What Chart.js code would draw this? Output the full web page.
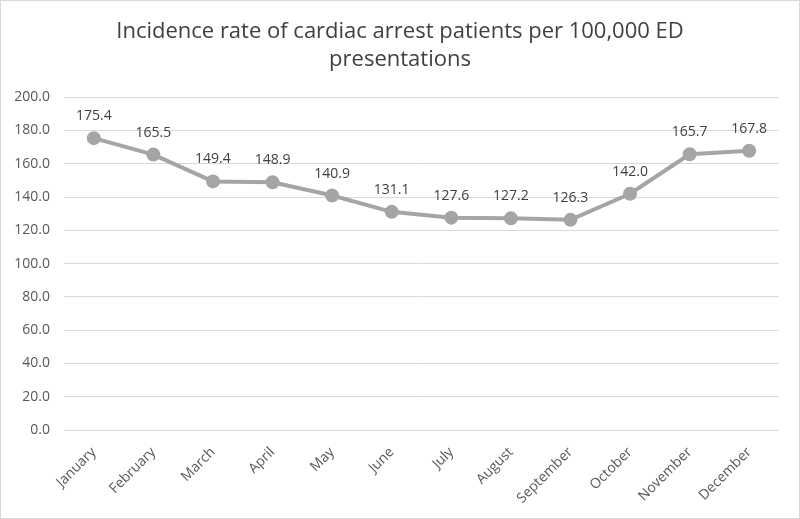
<!DOCTYPE html>
<html><head><meta charset="utf-8">
<script src="https://cdn.jsdelivr.net/npm/chart.js@4/dist/chart.umd.min.js"></script>
<style>html,body{margin:0;padding:0;background:#fff}#wrap{width:800px;height:519px}</style>
</head><body><div id="wrap"><canvas id="c" width="800" height="519"></canvas></div>
<script>
const months = ["January","February","March","April","May","June","July","August","September","October","November","December"];
const incidence = [175.4,165.5,149.4,148.9,140.9,131.1,127.6,127.2,126.3,142.0,165.7,167.8];
const titleLines = ["Incidence rate of cardiac arrest patients per 100,000 ED","presentations"];
const yMin = 0, yMax = 200, yStep = 20;

const FONT = "'Open Sans', 'Liberation Sans', sans-serif";

const bgBorder = {
  id: 'bgBorder',
  beforeDraw(chart) {
    const ctx = chart.ctx;
    ctx.save();
    ctx.fillStyle = '#fff';
    ctx.fillRect(0,0,chart.width,chart.height);
    ctx.strokeStyle = '#d9d9d9';
    ctx.lineWidth = 1;
    ctx.strokeRect(0.5,0.5,chart.width-1,chart.height-1);
    ctx.restore();
  }
};
const dataLabels = {
  id: 'dataLabels',
  afterDatasetsDraw(chart) {
    const ctx = chart.ctx;
    const meta = chart.getDatasetMeta(0);
    ctx.save();
    ctx.font = "14px " + FONT;
    ctx.fillStyle = '#404040';
    ctx.textAlign = 'center';
    ctx.textBaseline = 'middle';
    meta.data.forEach((pt, i) => {
      ctx.fillText(chart.data.datasets[0].data[i].toFixed(1), pt.x, pt.y - 22);
    });
    ctx.restore();
  }
};

new Chart(document.getElementById('c'), {
  type: 'line',
  data: {
    labels: months,
    datasets: [{
      data: incidence,
      borderColor: '#a5a5a5',
      backgroundColor: '#a5a5a5',
      borderWidth: 4,
      pointRadius: 5,
      pointBackgroundColor: '#a5a5a5',
      pointBorderColor: '#a5a5a5',
      tension: 0
    }]
  },
  options: {
    responsive: false,
    animation: false,
    layout: { padding: 0 },
    plugins: {
      legend: { display: false },
      tooltip: { enabled: false },
      title: {
        display: true,
        text: titleLines,
        color: '#404040',
        font: { family: FONT, size: 22, weight: 'normal', lineHeight: 1.3 },
        padding: { top: 17, bottom: 23 }
      }
    },
    scales: {
      x: {
        offset: true,
        grid: { display: false, drawTicks: false },
        border: { display: false },
        ticks: {
          color: '#595959',
          font: { family: FONT, size: 14 },
          minRotation: 45, maxRotation: 45,
          padding: 14,
          autoSkip: false
        },
        afterFit(s) { s.height = 89; }
      },
      y: {
        min: yMin, max: yMax,
        grid: { color: '#d9d9d9', lineWidth: 1, drawTicks: false },
        border: { display: false },
        ticks: {
          stepSize: yStep,
          color: '#595959',
          font: { family: FONT, size: 14 },
          padding: 14,
          callback: v => Number(v).toFixed(1)
        },
        afterFit(s) { s.width = 64; }
      },
      yRight: {
        position: 'right',
        display: true,
        min: yMin, max: yMax,
        grid: { display: false, drawTicks: false },
        border: { display: false },
        ticks: { display: false },
        afterFit(s) { s.width = 21; }
      }
    }
  },
  plugins: [bgBorder, dataLabels]
});
</script>
</body></html>
